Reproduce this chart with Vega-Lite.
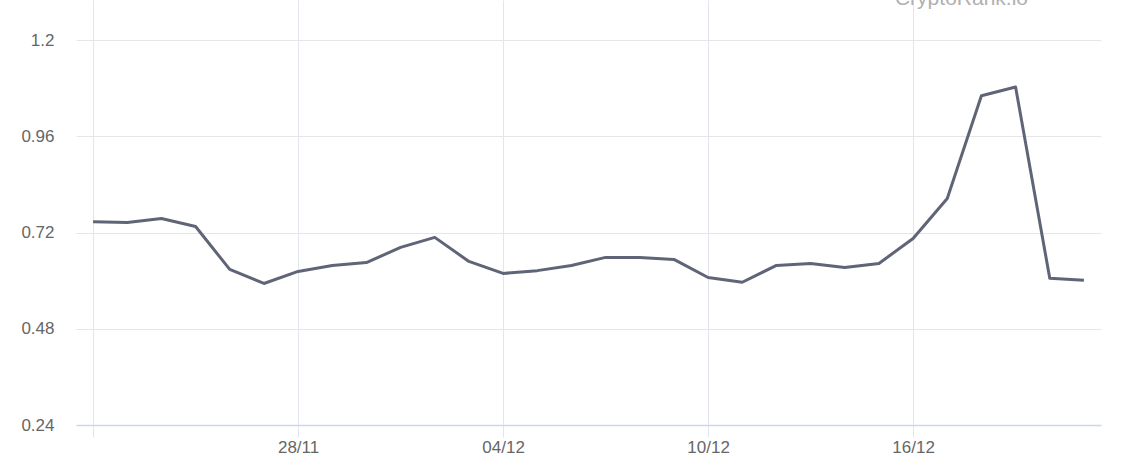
{
  "$schema": "https://vega.github.io/schema/vega-lite/v6.json",
  "autosize": "none",
  "width": 1025,
  "height": 425,
  "padding": {"left": 76, "top": 0, "right": 47, "bottom": 47},
  "background": "#ffffff",
  "config": {"view": {"stroke": null}, "font": "Liberation Sans"},
  "layer": [
    {
      "data": {"values": [
        {"date": "2023-11-22", "value": 0.747},
        {"date": "2023-11-23", "value": 0.745},
        {"date": "2023-11-24", "value": 0.755},
        {"date": "2023-11-25", "value": 0.735},
        {"date": "2023-11-26", "value": 0.628},
        {"date": "2023-11-27", "value": 0.593},
        {"date": "2023-11-28", "value": 0.623},
        {"date": "2023-11-29", "value": 0.638},
        {"date": "2023-11-30", "value": 0.645},
        {"date": "2023-12-01", "value": 0.683},
        {"date": "2023-12-02", "value": 0.708},
        {"date": "2023-12-03", "value": 0.648},
        {"date": "2023-12-04", "value": 0.618},
        {"date": "2023-12-05", "value": 0.625},
        {"date": "2023-12-06", "value": 0.638},
        {"date": "2023-12-07", "value": 0.658},
        {"date": "2023-12-08", "value": 0.658},
        {"date": "2023-12-09", "value": 0.653},
        {"date": "2023-12-10", "value": 0.608},
        {"date": "2023-12-11", "value": 0.596},
        {"date": "2023-12-12", "value": 0.638},
        {"date": "2023-12-13", "value": 0.643},
        {"date": "2023-12-14", "value": 0.633},
        {"date": "2023-12-15", "value": 0.643},
        {"date": "2023-12-16", "value": 0.705},
        {"date": "2023-12-17", "value": 0.805},
        {"date": "2023-12-18", "value": 1.061},
        {"date": "2023-12-19", "value": 1.083},
        {"date": "2023-12-20", "value": 0.606},
        {"date": "2023-12-21", "value": 0.601}
      ]},
      "mark": {"type": "line", "color": "#5f6577", "strokeWidth": 3, "strokeJoin": "round"},
      "encoding": {
        "x": {
          "field": "date", "type": "temporal",
          "scale": {"type": "utc", "domain": [
            {"year": 2023, "month": 11, "date": 21, "hours": 12, "utc": true},
            {"year": 2023, "month": 12, "date": 21, "hours": 12, "utc": true}
          ]},
          "axis": {
            "title": null,
            "values": [
              {"year": 2023, "month": 11, "date": 22, "utc": true},
              {"year": 2023, "month": 11, "date": 28, "utc": true},
              {"year": 2023, "month": 12, "date": 4, "utc": true},
              {"year": 2023, "month": 12, "date": 10, "utc": true},
              {"year": 2023, "month": 12, "date": 16, "utc": true}
            ],
            "format": "%d/%m",
            "labelExpr": "datum.index == 0 ? '' : datum.label",
            "grid": true, "gridColor": "#e1e5ee", "gridWidth": 1,
            "domain": true, "domainColor": "#ccd6eb", "domainWidth": 1.5,
            "ticks": true, "tickSize": 12, "tickColor": "#e1e5ee",
            "labelColor": "#666666", "labelFontSize": 17, "labelPadding": 2
          }
        },
        "y": {
          "field": "value", "type": "quantitative",
          "scale": {"domain": [0.24, 1.3], "nice": false, "zero": false},
          "axis": {
            "title": null,
            "values": [0.24, 0.48, 0.72, 0.96, 1.2],
            "format": ".2~f",
            "grid": true, "gridColor": "#e6e6e6", "gridWidth": 1,
            "domain": false, "ticks": false,
            "labelColor": "#666666", "labelFontSize": 17, "labelPadding": 22
          }
        }
      }
    },
    {
      "data": {"values": [{"date": "2023-12-17T10:00:00Z", "value": 1.2875, "label": "CryptoRank.io"}]},
      "mark": {"type": "text", "color": "#b0b0b0", "fontSize": 21, "align": "center", "baseline": "alphabetic"},
      "encoding": {
        "x": {"field": "date", "type": "temporal"},
        "y": {"field": "value", "type": "quantitative"},
        "text": {"field": "label"}
      }
    }
  ]
}
